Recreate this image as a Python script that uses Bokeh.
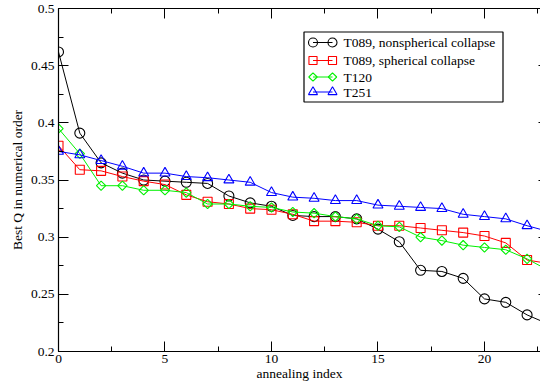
import numpy as np
from bokeh.plotting import figure
from bokeh.models import (Range1d, LinearAxis, SingleIntervalTicker,
                          CustomJSTickFormatter, CustomLabelingPolicy)
from bokeh.core.properties import value
from bokeh.embed import file_html
from bokeh.resources import INLINE

# Best Q per annealing run, sorted in decreasing order
annealing_index = list(range(24))
t089_nonspherical = [0.462, 0.391, 0.365, 0.356, 0.350, 0.349, 0.348, 0.347,
                     0.336, 0.330, 0.327, 0.319, 0.318, 0.318, 0.316, 0.307,
                     0.296, 0.271, 0.270, 0.264, 0.246, 0.243, 0.232, 0.224]
t089_spherical = [0.380, 0.359, 0.358, 0.353, 0.349, 0.346, 0.337, 0.331,
                  0.329, 0.325, 0.324, 0.320, 0.314, 0.314, 0.313, 0.310,
                  0.310, 0.308, 0.306, 0.304, 0.301, 0.295, 0.280, 0.277]
t120 = [0.395, 0.373, 0.345, 0.345, 0.341, 0.341, 0.339, 0.329,
        0.329, 0.327, 0.326, 0.322, 0.321, 0.318, 0.316, 0.310,
        0.309, 0.300, 0.297, 0.293, 0.291, 0.289, 0.281, 0.271]
t251 = [0.375, 0.372, 0.367, 0.362, 0.356, 0.356, 0.353, 0.352,
        0.350, 0.348, 0.339, 0.335, 0.334, 0.332, 0.332, 0.328,
        0.327, 0.326, 0.325, 0.320, 0.318, 0.316, 0.310, 0.305]

series_labels = ["T089, nonspherical collapse", "T089, spherical collapse",
                 "T120", "T251"]

FONT = "Liberation Serif"
FS = "13.5px"

W, H = 540, 385
LEFT, RIGHT, TOP, BOTTOM = 58, 0, 8, 34
X0, X1 = 0, 22.63
Y0, Y1 = 0.2, 0.5

p = figure(width=W, height=H, x_range=Range1d(X0, X1), y_range=Range1d(Y0, Y1),
           output_backend="svg", toolbar_location=None,
           min_border_left=LEFT, min_border_right=RIGHT,
           min_border_top=TOP, min_border_bottom=BOTTOM,
           x_axis_label="annealing index", y_axis_label="Best Q in numerical order")
p.outline_line_color = None
p.grid.visible = False
p.background_fill_color = "white"
p.border_fill_color = "white"

xticker = SingleIntervalTicker(interval=5, num_minor_ticks=2)
yticker = SingleIntervalTicker(interval=0.05, num_minor_ticks=2)
yfmt = CustomJSTickFormatter(code="return String(parseFloat(tick.toFixed(3)));")

def style_axis(ax, labels=True):
    ax.axis_line_color = "black"
    ax.axis_line_width = 1.2
    ax.major_tick_line_color = "black"
    ax.minor_tick_line_color = "black"
    ax.major_tick_in = 10
    ax.major_tick_out = 0
    ax.minor_tick_in = 5
    ax.minor_tick_out = 0
    ax.major_label_text_font = FONT
    ax.major_label_text_font_size = FS
    ax.major_label_text_color = "black"
    ax.axis_label_text_font = FONT
    ax.axis_label_text_font_size = FS
    ax.axis_label_text_font_style = "normal"
    ax.axis_label_text_color = "black"
    if not labels:
        # tick marks only on the mirrored axes: no labels, no reserved space
        ax.major_label_policy = CustomLabelingPolicy(code="return []")
        ax.major_label_text_font_size = "0px"
        ax.major_label_standoff = 0

xa = p.xaxis[0]
xa.ticker = xticker
style_axis(xa)
xa.major_label_standoff = 3
xa.axis_label_standoff = 0

ya = p.yaxis[0]
ya.ticker = yticker
ya.formatter = yfmt
style_axis(ya)
ya.major_label_standoff = 4
ya.axis_label_standoff = 3

top = LinearAxis(ticker=xticker)
style_axis(top, labels=False)
p.add_layout(top, "above")

right = LinearAxis(ticker=SingleIntervalTicker(interval=0.05, num_minor_ticks=0))
style_axis(right, labels=False)
right.axis_line_color = None
right.major_tick_in = 2
right.minor_tick_in = 0
p.add_layout(right, "right")

styles = [
    dict(color="black", marker="circle", size=10, angle=0.0),
    dict(color="#ff0000", marker="square", size=9, angle=0.0),
    dict(color="#00f000", marker="square", size=6.6, angle=np.pi / 4),
    dict(color="#0000ff", marker="triangle", size=10, angle=0.0),
]
all_series = [t089_nonspherical, t089_spherical, t120, t251]

for ys, st in zip(all_series, styles):
    p.line(annealing_index, ys, line_color=st["color"], line_width=1)
    p.scatter(annealing_index, ys, marker=st["marker"], size=st["size"],
              angle=st["angle"], line_color=st["color"], line_width=1.1,
              fill_color=None)

# legend, laid out in screen pixels and mapped into data space
frame_w = W - LEFT - RIGHT
frame_h = H - TOP - BOTTOM

def sx(px):
    return X0 + (px - LEFT) / frame_w * (X1 - X0)

def sy(py):
    return Y1 - (py - TOP) / frame_h * (Y1 - Y0)

p.quad(left=[sx(303.5)], right=[sx(502.5)], top=[sy(31.5)], bottom=[sy(101.5)],
       fill_color="white", line_color="black", line_width=1.2, level="overlay")

row_py = [42.0, 60.0, 76.5, 91.5]
for lbl, st, py in zip(series_labels, styles, row_py):
    p.segment(x0=[sx(312.5)], y0=[sy(py)], x1=[sx(332)], y1=[sy(py)],
              line_color=st["color"], line_width=1, level="overlay")
    p.scatter([sx(312.5), sx(332)], [sy(py), sy(py)], marker=st["marker"],
              size=st["size"] * 0.9, angle=st["angle"], line_color=st["color"],
              line_width=1.1, fill_color=None, level="overlay")
    p.text([sx(343)], [sy(py)], text=[lbl], text_font=value(FONT),
           text_font_size=value(FS), text_baseline="middle", text_align="left",
           text_color="black", level="overlay")

open("out.html", "w").write(file_html(p, INLINE))
